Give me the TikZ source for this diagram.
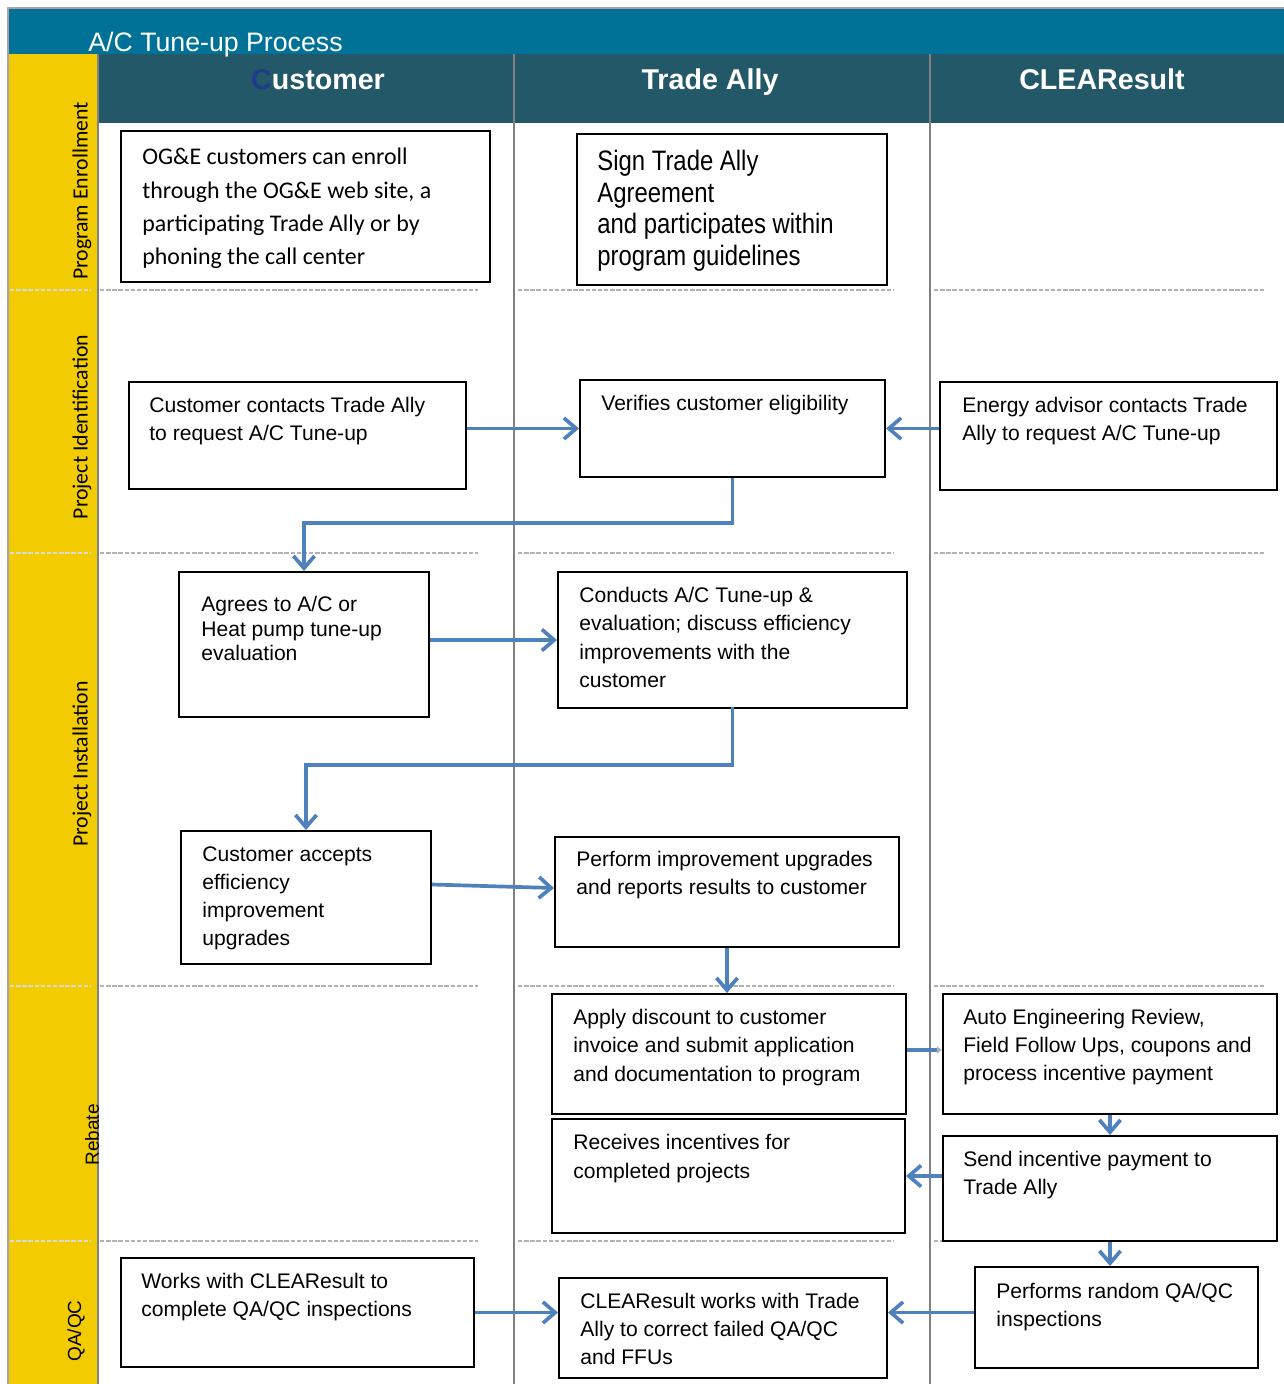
\documentclass[tikz,border=0pt]{standalone}
\usepackage{fontspec}
\setmainfont{Liberation Sans}
\newfontfamily\calib{Carlito}
\newfontfamily\narrowf{Liberation Sans}[FakeStretch=0.85]
\usetikzlibrary{arrows.meta,calc,fit}
\definecolor{topband}{RGB}{0,114,152}
\definecolor{headerc}{RGB}{35,88,104}
\definecolor{yellowc}{RGB}{242,204,0}
\definecolor{arrowblue}{RGB}{79,129,189}
\definecolor{lanegray}{RGB}{128,128,128}
\definecolor{framegray}{RGB}{165,165,165}
\definecolor{custC}{RGB}{30,60,135}
\begin{document}
\begin{tikzpicture}[x=0.02cm,y=-0.02cm,
  box/.style={draw=black,line width=1.1pt,inner sep=0pt,fill=white},
  txt/.style={inner sep=0pt,anchor=north west,align=left,font=\fontsize{12}{15.9}\selectfont},
  flow/.style={draw=arrowblue,line width=2.1pt,-{Straight Barb[length=7pt,width=12pt]}},
  sep/.style={draw=gray!60,line width=1.1pt,dash pattern=on 2.5pt off 1pt},
  sepy/.style={draw=gray!30,line width=1.1pt,dash pattern=on 2.5pt off 1pt},
  laneline/.style={draw=lanegray,line width=1.6pt},
  hdr/.style={anchor=base,text=white,inner sep=0pt,font=\bfseries\fontsize{16.3}{18}\selectfont},
  lanec/.style={rotate=90,inner sep=0pt,font=\calib\fontsize{12.4}{14}\selectfont},
  lanea/.style={rotate=90,inner sep=0pt,font=\fontsize{10.8}{13}\selectfont}
]
\useasboundingbox (0,0) rectangle (1284,1384);
% bands
\fill[topband] (8,8) rectangle (1284,54);
\fill[yellowc] (8,54) rectangle (98,1384);
\fill[headerc] (98,54) rectangle (1284,123);
\draw[framegray,line width=1.1pt] (8,1384) -- (8,8) -- (1284,8);
\draw[laneline] (98,54) -- (98,1384);
\draw[laneline] (514,54) -- (514,1384);
\draw[laneline] (930,54) -- (930,1384);
% separators
\foreach \yy in {290,553,986,1241}{
  \draw[sepy] (10,\yy) -- (91,\yy);
  \draw[sep] (100,\yy) -- (478,\yy);
  \draw[sep] (518,\yy) -- (894,\yy);
  \draw[sep] (934,\yy) -- (1266,\yy);
}
% title and headers
\node[anchor=base west,text=white,inner sep=0pt,font=\fontsize{15.2}{17}\selectfont] (title) at (88,51) {A/C Tune-up Process};
\node[hdr] (hcust) at (318,89) {{\color{custC}C}ustomer};
\node[hdr] (htrade) at (710,89) {Trade Ally};
\node[hdr] (hclear) at (1102,89) {CLEAResult};
% lane labels
\node[lanec] (lpe) at (82,191) {Program Enrollment};
\node[lanec] (lpid) at (82,427) {Project Identification};
\node[lanec] (lpin) at (82,764) {Project Installation};
\node[lanea] (lreb) at (92,1135) {Rebate};
\node[lanea] (lqa) at (76,1331) {QA/QC};
% boxes
\node[box,fit={(121,131)(490,282)}] (b1) {};
\node[box,fit={(577,134)(887,285)}] (b2) {};
\node[box,fit={(129,382)(466,489)}] (b3) {};
\node[box,fit={(580,380)(885,477)}] (b4) {};
\node[box,fit={(940,382)(1277,490)}] (b5) {};
\node[box,fit={(179,572)(429,717)}] (b6) {};
\node[box,fit={(558,572)(907,708)}] (b7) {};
\node[box,fit={(181,831)(431,964)}] (b8) {};
\node[box,fit={(555,837)(899,947)}] (b9) {};
\node[box,fit={(552,994)(906,1114)}] (b10) {};
\node[box,fit={(943,994)(1277,1114)}] (b11) {};
\node[box,fit={(552,1119)(905,1233)}] (b12) {};
\node[box,fit={(943,1136)(1277,1241)}] (b13) {};
\node[box,fit={(121,1258)(474,1367)}] (b14) {};
\node[box,fit={(559,1278)(887,1378)}] (b15) {};
\node[box,fit={(975,1267)(1258,1368)}] (b16) {};
% texts
\node[txt,font=\calib\fontsize{13.6}{18.9}\selectfont] (t1) at (142,148) {OG\&E customers can enroll\\through the OG\&E web site, a\\participating Trade Ally or by\\phoning the call center};
\node[txt,font=\narrowf\fontsize{16}{18}\selectfont] (t2) at (597,150) {Sign Trade Ally\\Agreement\\and participates within\\program guidelines};
\node[txt] (t3) at (149,397) {Customer contacts Trade Ally\\to request A/C Tune-up};
\node[txt] (t4) at (601,395) {Verifies customer eligibility};
\node[txt] (t5) at (962,397) {Energy advisor contacts Trade\\Ally to request A/C Tune-up};
\node[txt,font=\fontsize{12}{13.9}\selectfont] (t6) at (201,596) {Agrees to A/C or\\Heat pump tune-up\\evaluation};
\node[txt,font=\fontsize{12}{16.1}\selectfont] (t7) at (579,587) {Conducts A/C Tune-up \&\\evaluation; discuss efficiency\\improvements with the\\customer};
\node[txt,font=\fontsize{12}{16}\selectfont] (t8) at (202,846) {Customer accepts\\efficiency\\improvement\\upgrades};
\node[txt] (t9) at (576,851) {Perform improvement upgrades\\and reports results to customer};
\node[txt,font=\fontsize{12}{16.1}\selectfont] (t10) at (573,1009) {Apply discount to customer\\invoice and submit application\\and documentation to program};
\node[txt] (t11) at (963,1009) {Auto Engineering Review,\\Field Follow Ups, coupons and\\process incentive payment};
\node[txt,font=\fontsize{12}{16.4}\selectfont] (t12) at (573,1134) {Receives incentives for\\completed projects};
\node[txt] (t13) at (963,1151) {Send incentive payment to\\Trade Ally};
\node[txt] (t14) at (141,1273) {Works with CLEAResult to\\complete QA/QC inspections};
\node[txt] (t15) at (580,1293) {CLEAResult works with Trade\\Ally to correct failed QA/QC\\and FFUs};
\node[txt] (t16) at (996,1283) {Performs random QA/QC\\inspections};
% connectors
\draw[flow] (b4.west -| b3.east) -- (b4.west);
\draw[flow] (b4.east -| b5.west) -- (b4.east);
\draw[flow] (b4.south) -- ++(0,45) -| (b6.north);
\draw[flow] (b7.west -| b6.east) -- (b7.west);
\draw[flow] ([yshift=1pt]b7.south) -- ++(0,58) -| (b8.north);
\draw[flow] ($(b8.east)+(0,-13)$) -- ($(b9.west)+(0,-4)$);
\draw[flow] (b9.south) -- (b9.south |- b10.north);
\draw[draw=arrowblue,line width=2.1pt,-{Latex[length=3pt,width=5pt,color=gray!60]}] ($(b10.east)+(0,-4)$) -- ($(b11.west)+(0,-4)$);
\draw[flow] (b11.south) -- (b11.south |- b13.north);
\draw[flow] (b12.east -| b13.west) -- (b12.east);
\draw[flow] (b13.south) -- (b13.south |- b16.north);
\draw[flow] (b14.east) -- (b15.west |- b14.east);
\draw[flow] (b16.west |- b14.east) -- (b15.east |- b14.east);
\end{tikzpicture}
\end{document}
